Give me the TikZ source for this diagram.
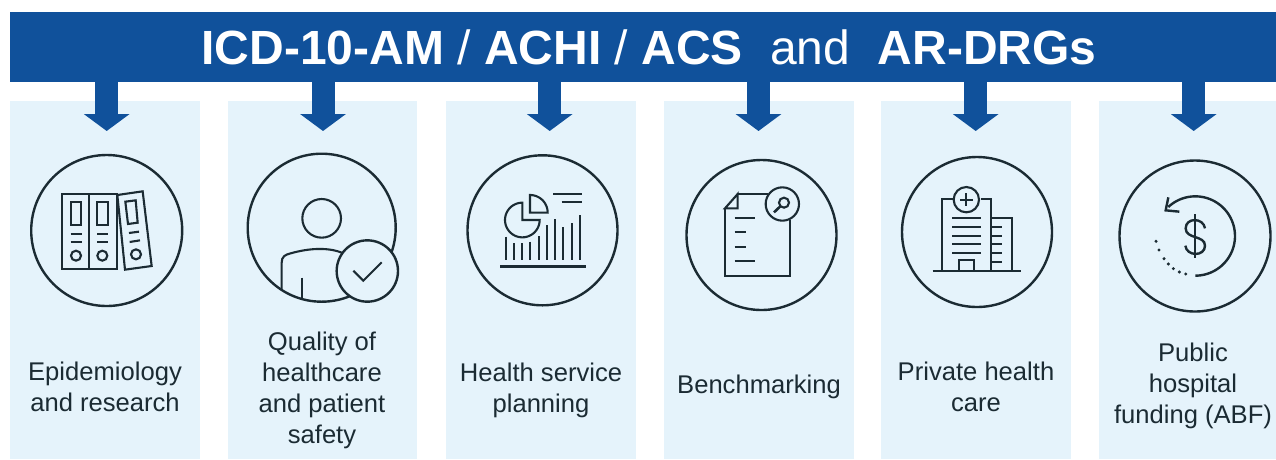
\documentclass[tikz,border=0pt]{standalone}
\usepackage{fontspec}
\setmainfont{Liberation Sans}
\usetikzlibrary{arrows.meta}
\definecolor{hdr}{HTML}{10519B}
\definecolor{pnl}{HTML}{E5F3FB}
\definecolor{ink}{HTML}{1B2B33}
\tikzset{
  panel/.style={fill=pnl,draw=none,inner sep=0pt,anchor=north west,minimum height=358pt},
  header/.style={fill=hdr,draw=none,inner sep=0pt,anchor=north west,minimum width=1266pt,minimum height=70pt},
  ring/.style={circle,draw=ink,line width=2.4pt,inner sep=0pt},
  label/.style={align=center,text=ink,inner sep=0pt,font=\fontsize{25.6}{31}\selectfont},
  barrow/.style={draw=hdr,line width=23pt,-{Triangle[length=17pt,width=45pt,fill=hdr]}},
  icon/.style={draw=ink,line width=2.1pt,line join=miter},
  crop/.style={x=0.33333pt,y=-0.33333pt},
}
\begin{document}
\begin{tikzpicture}[x=1pt,y=-1pt]
\useasboundingbox (0,0) rectangle (1276,459);
% panels
\node[panel,minimum width=190pt] (p1) at (10,101) {};
\node[panel,minimum width=189pt] (p2) at (228,101) {};
\node[panel,minimum width=190pt] (p3) at (446,101) {};
\node[panel,minimum width=190pt] (p4) at (664,101) {};
\node[panel,minimum width=190pt] (p5) at (881,101) {};
\node[panel,minimum width=177pt] (p6) at (1099,101) {};
% header
\node[header] (head) at (10,12) {};
\node[text=white,inner sep=0pt,font=\fontsize{48}{48}\selectfont] (title) at (649,47.5)
  {\textbf{ICD-10-AM} / \textbf{ACHI} / \textbf{ACS}\hspace{14pt} and\hspace{14pt} \textbf{AR-DRGs}};
% arrows
\foreach \n/\x in {1/106.7,2/323,3/549.7,4/758.5,5/975.7,6/1193.7}{
  \coordinate (from\n) at (\x,81);
  \coordinate (tip\n) at (\x,131);
  \draw[barrow] (from\n) -- (tip\n);
}
% rings
\node[ring,minimum size=151pt] (c1) at (106.7,230.5) {};
\node[ring,minimum size=148pt] (c2) at (321.7,227.7) {};
\node[ring,minimum size=150pt] (c3) at (542.5,230.3) {};
\node[ring,minimum size=150pt] (c4) at (761.5,235) {};
\node[ring,minimum size=150pt] (c5) at (977,232) {};
\node[ring,minimum size=151pt] (c6) at (1195,236) {};
% labels
\node[label] (t1) at (105,387) {Epidemiology\\and research};
\node[label] (t2) at (322,390) {Quality of\\healthcare\\and patient\\safety};
\node[label] (t3) at (541,390) {Health service\\planning};
\node[label] (t4) at (759,387) {Benchmarking};
\node[label] (t5) at (976,387) {Private health\\care};
\node[label] (t6) at (1193,386) {Public\\hospital\\funding (ABF)};
% icon 1
\begin{scope}[shift={(0,80)},crop]
\draw[icon] (186,342) rectangle (268,568);
\draw[icon] (268,342) rectangle (350,568);
\draw[icon] (212,366) rectangle (243,435);
\draw[icon] (292,366) rectangle (323,435);
\foreach \a/\b in {212/245,292/325}{
  \draw[icon] (\a,461) -- (\b,461);
  \draw[icon] (\a,487) -- (\b,487);
}
\draw[icon] (228,527) circle[radius=15];
\draw[icon] (307,527) circle[radius=15];
\draw[icon] (352,345) -- (428,334) -- (455,558) -- (375,569) -- cycle;
\draw[icon] (376,365) -- (407,361) -- (413,428) -- (384,432) -- cycle;
\draw[icon] (387,459) -- (417,455);
\draw[icon] (389,486) -- (420,481);
\draw[icon] (408,523) circle[radius=15];
\end{scope}
% icon 2
\begin{scope}[shift={(0,80)},crop]
\draw[icon] (965,415) circle[radius=58];
\draw[icon] (845,628) -- (845,548) .. controls (845,530) and (855,524) .. (872,520) .. controls (925,505) and (985,500) .. (1030,520);
\draw[icon] (905,593) -- (905,655);
\draw[icon,line width=2.4pt,fill=pnl] (1102,573) circle[radius=92];
\draw[icon] (1060,572) -- (1090,602) -- (1145,547);
\end{scope}
% icon 3
\begin{scope}[shift={(440,80)},crop]
\draw[icon] plot[domain=-90:-360,samples=50] ({247+52*cos(\x)},{420+52*sin(\x)}) -- (247,420) -- cycle;
\draw[icon] plot[domain=-90:0,samples=25] ({270+53*cos(\x)},{398+53*sin(\x)}) -- (270,398) -- cycle;
\draw[icon] (340,342) -- (426,342);
\draw[icon] (365,367) -- (426,367);
\foreach \x/\y in {198/470,222/490,247/490,271/485,296/468,321/436,345/417,370/442,395/430,420/405}
  \draw[icon] (\x,\y) -- (\x,541);
\draw[icon,line width=2.8pt] (180,560) -- (438,560);
\end{scope}
% icon 4
\begin{scope}[shift={(440,80)},crop]
\draw[icon] (855,385) -- (855,588) -- (1050,588) -- (1050,420);
\draw[icon] (890,342) -- (985,342);
\draw[icon] (855,385) -- (893,342) -- (893,385) -- cycle;
\draw[icon] (884,414) -- (944,414);
\draw[icon] (884,457) -- (917,457);
\draw[icon] (884,500) -- (917,500);
\draw[icon] (884,542) -- (944,542);
\draw[icon] (1027,372) circle[radius=50];
\draw[icon] (1032,368) circle[radius=15];
\draw[icon,line width=2.6pt] (1002,397) -- (1021,379);
\end{scope}
% icon 5
\begin{scope}[shift={(860,80)},crop]
\draw[icon] (245,572) -- (245,358) -- (278,358);
\draw[icon] (362,358) -- (394,358) -- (394,572);
\draw[icon] (319,359) circle[radius=38];
\draw[icon] (319,340) -- (319,378);
\draw[icon] (300,359) -- (338,359);
\foreach \y in {415,441,467,493,519} \draw[icon] (277,\y) -- (362,\y);
\draw[icon] (394,414) -- (455,414) -- (455,572);
\foreach \y in {441,467,493,520,546} \draw[icon] (394,\y) -- (427,\y);
\draw[icon] (297,572) -- (297,541) -- (342,541) -- (342,572);
\draw[icon,line width=2.6pt] (218,573) -- (482,573);
\end{scope}
% icon 6
\begin{scope}[shift={(860,80)},crop]
\draw[icon,line width=2.4pt] plot[domain=90:-133,samples=60] ({1006+119*cos(\x)},{468+119*sin(\x)});
\draw[icon,line width=2.4pt] (925,352) -- (917,391) -- (958,395);
\draw[icon] (1006,402) -- (1006,535);
\draw[icon,line width=2.4pt] (1035,445) .. controls (1030,412) and (977,412) .. (977,445) .. controls (977,478) and (1035,465) .. (1035,497) .. controls (1035,530) and (980,530) .. (976,497);
\foreach \x/\y in {888/484,897/510,912/536,925/552,940/566,958/576,977/582}
  \fill[ink] (\x,\y) circle[radius=5];
\end{scope}
\end{tikzpicture}
\end{document}
